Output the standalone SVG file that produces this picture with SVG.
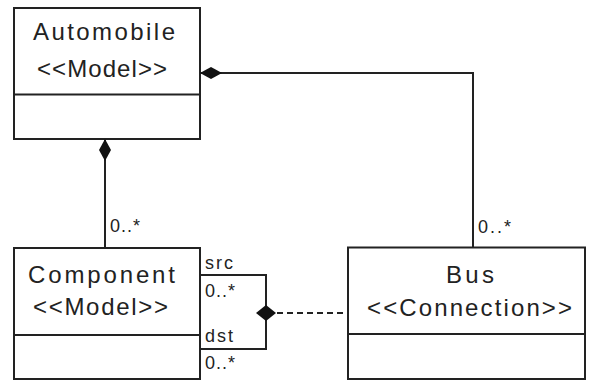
<svg xmlns="http://www.w3.org/2000/svg" width="595" height="382" viewBox="0 0 595 382">
<style>
.box{fill:#fff;stroke:#222;stroke-width:2}
.div{stroke:#222;stroke-width:2;fill:none}
.t{font-family:"Liberation Sans",Arial,sans-serif;font-size:24px;fill:#222;text-anchor:middle}
.s{font-family:"Liberation Sans",Arial,sans-serif;font-size:18px;fill:#222}
.c{fill:none;stroke:#222;stroke-width:2}
.d{fill:none;stroke:#222;stroke-width:2;stroke-dasharray:6 4}
</style>
<defs>
<marker id="dia" markerUnits="userSpaceOnUse" markerWidth="24" markerHeight="14" viewBox="0 -7 24 14" refX="0" refY="0" orient="auto">
<path d="M0,0 L11,-6 L22,0 L11,6 Z" fill="#111"/>
</marker>
</defs>
<rect width="595" height="382" fill="#fff"/>
<g id="automobile">
<rect class="box" x="14" y="8" width="186" height="131"/>
<line class="div" x1="14" y1="94.5" x2="200" y2="94.5"/>
<text class="t" x="104" y="40" textLength="142" lengthAdjust="spacing">Automobile</text>
<text class="t" x="102" y="77" textLength="130" lengthAdjust="spacing">&lt;&lt;Model&gt;&gt;</text>
</g>
<g id="component">
<rect class="box" x="14" y="248" width="186" height="131"/>
<line class="div" x1="14" y1="335" x2="200" y2="335"/>
<text class="t" x="101.5" y="283" textLength="147" lengthAdjust="spacing">Component</text>
<text class="t" x="100.5" y="315" textLength="135" lengthAdjust="spacing">&lt;&lt;Model&gt;&gt;</text>
</g>
<g id="bus">
<rect class="box" x="348" y="247.5" width="237" height="131.5"/>
<line class="div" x1="348" y1="334" x2="585" y2="334"/>
<text class="t" x="470" y="283" textLength="48" lengthAdjust="spacing">Bus</text>
<text class="t" x="469.5" y="316" textLength="205" lengthAdjust="spacing">&lt;&lt;Connection&gt;&gt;</text>
</g>
<g id="connectors">
<path class="c" d="M105,139 L105,248" marker-start="url(#dia)"/>
<path class="c" d="M200,73 L473,73 L473,247.5" marker-start="url(#dia)"/>
<path class="c" d="M200,275 L266,275 L266,349 L200,349"/>
<polygon points="256,313 266,305 276,313 266,321" fill="#111"/>
<line class="d" x1="277" y1="313" x2="348" y2="313"/>
<text class="s" x="110" y="232" textLength="30" lengthAdjust="spacing">0..*</text>
<text class="s" x="478" y="233" textLength="33" lengthAdjust="spacing">0..*</text>
<text class="s" x="205" y="269" textLength="28" lengthAdjust="spacing">src</text>
<text class="s" x="205" y="297" textLength="30" lengthAdjust="spacing">0..*</text>
<text class="s" x="205" y="342" textLength="28" lengthAdjust="spacing">dst</text>
<text class="s" x="205" y="369" textLength="30" lengthAdjust="spacing">0..*</text>
</g>
</svg>
